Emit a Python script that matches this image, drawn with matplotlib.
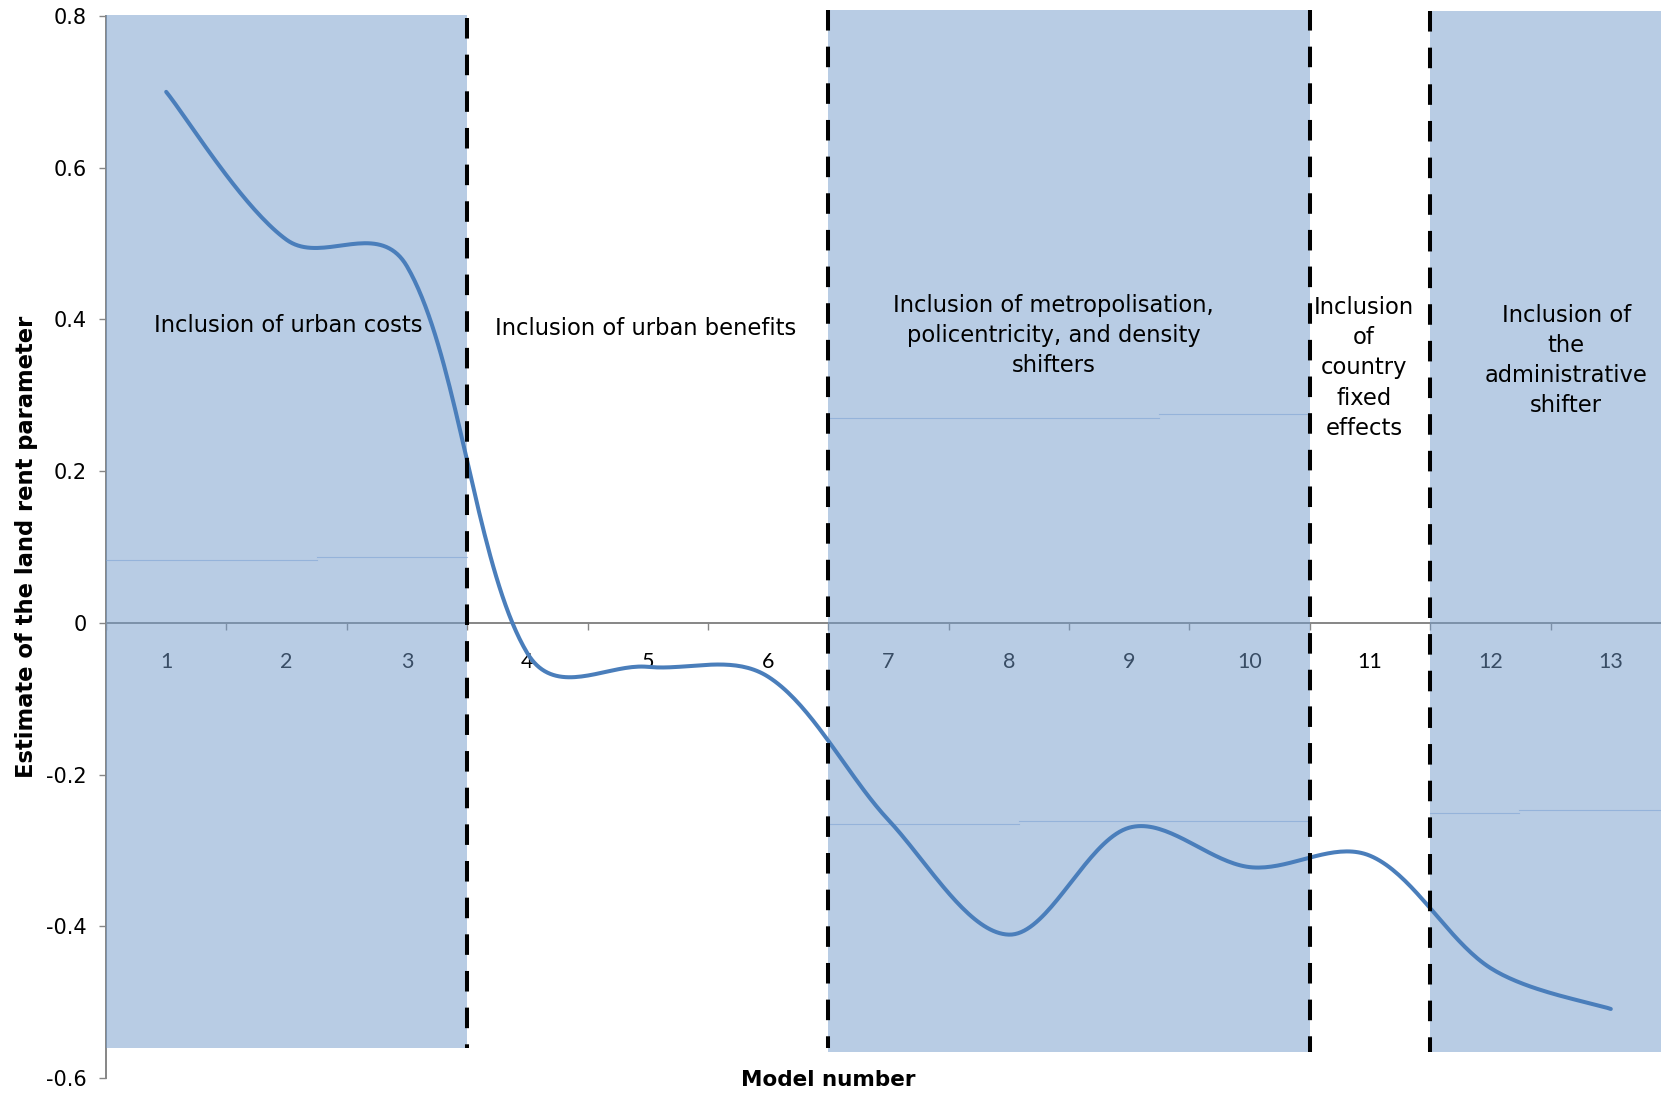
import numpy as np
import matplotlib
matplotlib.use("Agg")
import matplotlib.pyplot as plt
from matplotlib.patches import Rectangle

# ---- data -------------------------------------------------------------
models = list(range(1, 14))
estimates = [0.70, 0.505, 0.47, -0.040, -0.058, -0.071, -0.260,
             -0.411, -0.270, -0.322, -0.307, -0.455, -0.509]
y_ticks = [-0.6, -0.4, -0.2, 0.0, 0.2, 0.4, 0.6, 0.8]
y_tick_labels = ["-0.6", "-0.4", "-0.2", "0", "0.2", "0.4", "0.6", "0.8"]

# shaded model groups: (first boundary, last boundary, bottom, top)
band_x0 = [0.5, 6.5, 11.5]
band_x1 = [3.5, 10.5, 13.5]
band_bottom = [-0.5605, -0.5656, -0.5656]
band_top = [0.801, 0.808, 0.807]

# faint seams inside the shaded groups: (x0, x1, y)
seam_x0 = [0.5, 2.25, 6.5, 9.25, 6.5, 8.08, 11.5, 12.24]
seam_x1 = [2.25, 3.5, 9.25, 10.5, 8.08, 10.5, 12.24, 13.5]
seam_y = [0.0826, 0.0862, 0.2707, 0.2749, -0.2656, -0.2615, -0.250, -0.2473]

# group separators
sep_x = [3.5, 6.5, 10.5, 11.5]
sep_bottom = [-0.5605, -0.5605, -0.5656, -0.5656]
sep_top = [0.797, 0.808, 0.808, 0.807]

# group captions: (x, y, text)
cap_x = [2.01, 4.98, 8.37, 10.95, 12.63]
cap_y = [0.392, 0.388, 0.379, 0.336, 0.346]
cap_text = [
    "Inclusion of urban costs",
    "Inclusion of urban benefits",
    "Inclusion of metropolisation,\npolicentricity, and density\nshifters",
    "Inclusion\nof\ncountry\nfixed\neffects",
    "Inclusion of\nthe\nadministrative\nshifter",
]

FIG_W, FIG_H = 1661, 1094
AX_LEFT, AX_BOTTOM, AX_W, AX_H = 106, 16, 1565, 1062
X_RANGE = (0.5, 13.5)
Y_RANGE = (-0.6, 0.8)


def smooth_curve(xs, ys, n=40):
    """Bezier smoothing through every point; tangent lengths are weighted
    by neighbouring segment lengths measured on screen."""
    sx = AX_W / (X_RANGE[1] - X_RANGE[0])
    sy = AX_H / (Y_RANGE[1] - Y_RANGE[0])
    pts = np.column_stack([np.asarray(xs, float) * sx,
                           np.asarray(ys, float) * sy])
    m = len(pts)
    seglen = np.hypot(*np.diff(pts, axis=0).T)
    t = np.linspace(0, 1, n)[1:, None]
    out = [pts[0]]
    for i in range(m - 1):
        p1, p2 = pts[i], pts[i + 1]
        d = np.sqrt(seglen[i])
        if i > 0:
            dp = np.sqrt(seglen[i - 1])
            c1 = p1 + (p2 - pts[i - 1]) * d / (dp + d) / 3.0
        else:
            c1 = p1 + (p2 - p1) / 6.0
        if i + 2 < m:
            dn = np.sqrt(seglen[i + 1])
            c2 = p2 - (pts[i + 2] - p1) * d / (dn + d) / 3.0
        else:
            c2 = p2 - (p2 - p1) / 6.0
        seg = ((1 - t) ** 3) * p1 + 3 * ((1 - t) ** 2) * t * c1 \
            + 3 * (1 - t) * t ** 2 * c2 + t ** 3 * p2
        out.extend(seg)
    out = np.array(out)
    return out[:, 0] / sx, out[:, 1] / sy


fig = plt.figure(figsize=(FIG_W / 100, FIG_H / 100), dpi=100)
ax = fig.add_axes([AX_LEFT / FIG_W, AX_BOTTOM / FIG_H,
                   AX_W / FIG_W, AX_H / FIG_H])
ax.set_xlim(*X_RANGE)
ax.set_ylim(*Y_RANGE)

axis_grey = "#868686"
for side in ("top", "right"):
    ax.spines[side].set_visible(False)
ax.spines["bottom"].set_position(("data", 0))
for side in ("left", "bottom"):
    ax.spines[side].set_color(axis_grey)
    ax.spines[side].set_linewidth(1.4)

ax.set_yticks(y_ticks)
ax.set_yticklabels(y_tick_labels, fontsize=15, family="DejaVu Sans")
ax.tick_params(axis="y", direction="out", length=5, width=1, color=axis_grey,
               pad=9)

ax.set_xticks(models)
ax.set_xticklabels([str(m) for m in models], fontsize=15.5, family="Lato")
ax.set_xticks(np.arange(0.5, 14.0, 1.0), minor=True)
ax.tick_params(axis="x", which="major", length=0, pad=21)
ax.tick_params(axis="x", which="minor", direction="out", length=5, width=1,
               color=axis_grey)

# shaded groups drawn over the axis so labels beneath show through
for x0, x1, b, tp in zip(band_x0, band_x1, band_bottom, band_top):
    ax.add_patch(Rectangle((x0, b), x1 - x0, tp - b, facecolor="#739bcb",
                           alpha=0.5, edgecolor="none", zorder=3,
                           clip_on=False))
for x0, x1, y in zip(seam_x0, seam_x1, seam_y):
    ax.plot([x0, x1], [y, y], color="#7ea3d4", lw=0.8, alpha=0.6,
            zorder=3.5, clip_on=False)

cx, cy = smooth_curve(models, estimates)
ax.plot(cx, cy, color="#4a7ebb", lw=2.9, solid_capstyle="round",
        solid_joinstyle="round", zorder=5)

for x, b, tp in zip(sep_x, sep_bottom, sep_top):
    ax.plot([x, x], [tp, b], color="black", lw=2.9,
            linestyle=(0, (5.1, 4.0)), zorder=6, clip_on=False)

for x, y, s in zip(cap_x, cap_y, cap_text):
    ax.text(x, y, s, ha="center", va="center", fontsize=16.3,
            family="DejaVu Sans", linespacing=1.4, zorder=7,
            multialignment="center")

fig.text(27 / FIG_W, 1 - 547 / FIG_H, "Estimate of the land rent parameter",
         rotation=90, ha="center", va="center", fontsize=16.3,
         fontweight="bold", family="DejaVu Sans")
fig.text(828 / FIG_W, 1 - 1080 / FIG_H, "Model number", ha="center",
         va="center", fontsize=15.5, fontweight="bold", family="DejaVu Sans")

fig.savefig("out.png", dpi=100)
